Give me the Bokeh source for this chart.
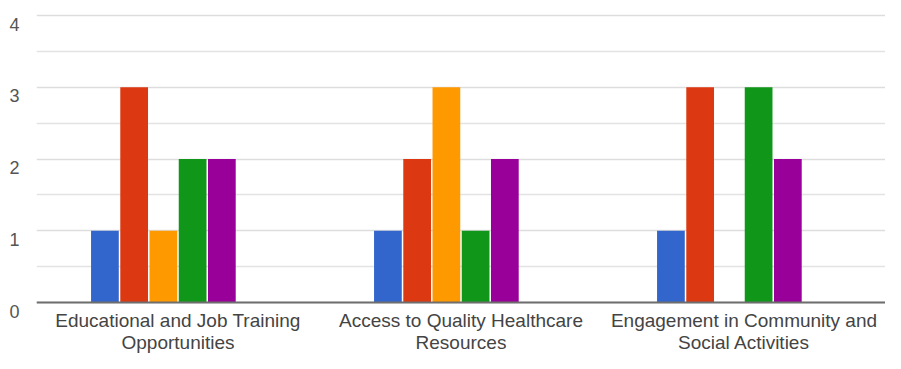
from bokeh.plotting import figure
from bokeh.models import (FactorRange, Range1d, FixedTicker, ColumnDataSource,
                          LinearAxis, LabelSet, Span)
from bokeh.core.properties import value
from bokeh.transform import dodge
from bokeh.embed import file_html
from bokeh.resources import INLINE

categories = [
    "Educational and Job Training\nOpportunities",
    "Access to Quality Healthcare\nResources",
    "Engagement in Community and\nSocial Activities",
]
series_names = ["Option 1", "Option 2", "Option 3", "Option 4", "Option 5", "Option 6"]
option_1 = [1, 1, 1]
option_2 = [3, 2, 3]
option_3 = [1, 3, 0]
option_4 = [2, 1, 3]
option_5 = [2, 2, 2]
option_6 = [0, 0, 0]
series_values = [option_1, option_2, option_3, option_4, option_5, option_6]
colors = ["#3366cc", "#dc3912", "#ff9900", "#109618", "#990099", "#0099c6"]
y_ticks = [0, 1, 2, 3, 4]
y_minor_ticks = [0.5, 1.5, 2.5, 3.5]

data = {"cat": categories, "base": [0] * len(categories),
        "line1": [c.split("\n")[0] for c in categories],
        "line2": [c.split("\n")[1] for c in categories]}
for name, vals in zip(series_names, series_values):
    data[name] = vals
source = ColumnDataSource(data)

# layout: frame spans from top border to the bottom of the figure; the
# region below zero holds the category labels
H, top_border = 353, 13
px_per_unit = 71.75
zero_px = 302            # pixel row of value 0
y_hi = 4 + (15 - top_border) / px_per_unit
y_lo = -(H - zero_px) / px_per_unit
label_shift = 8.5 / px_per_unit   # tick labels sit a little below their gridlines

p = figure(
    width=885, height=H,
    x_range=FactorRange(*categories, range_padding=0),
    y_range=Range1d(y_lo, y_hi),
    x_axis_location=None, y_axis_location=None,
    output_backend="svg", toolbar_location=None,
    min_border_left=36, min_border_right=0, min_border_top=top_border, min_border_bottom=0,
)
p.outline_line_color = None
p.extra_y_ranges = {"lbl": Range1d(y_lo + label_shift, y_hi + label_shift)}

# grid
p.xgrid.visible = False
p.ygrid.ticker = FixedTicker(ticks=y_ticks, minor_ticks=y_minor_ticks)
p.ygrid.grid_line_color = "#dddddd"
p.ygrid.grid_line_width = 1.5
p.ygrid.minor_grid_line_color = "#e3e3e3"
p.ygrid.minor_grid_line_width = 1.5

step = 0.1033
width = 0.098
for i, (name, col) in enumerate(zip(series_names, colors)):
    p.vbar(x=dodge("cat", (i - 2.5) * step, range=p.x_range), top=name, width=width,
           source=source, fill_color=col, line_color=None, bottom=0)

# baseline
p.add_layout(Span(location=0, dimension="width", line_color="#6e6e6e", line_width=2))

# y axis labels
yax = LinearAxis(y_range_name="lbl", ticker=FixedTicker(ticks=y_ticks))
yax.axis_line_color = None
yax.major_tick_line_color = None
yax.minor_tick_line_color = None
yax.major_label_standoff = 11
yax.major_label_text_font = "Liberation Sans"
yax.major_label_text_font_size = "18px"
yax.major_label_text_color = "#555555"
p.add_layout(yax, "left")

# category labels (two centred lines)
for col, off in (("line1", -7), ("line2", -29)):
    p.add_layout(LabelSet(x="cat", y="base", text=col, source=source, y_offset=off,
                          text_align=value("center"), text_baseline=value("top"),
                          text_font=value("Liberation Sans"), text_font_size=value("19px"),
                          text_color=value("#444444")))

open("out.html", "w").write(file_html(p, INLINE))
